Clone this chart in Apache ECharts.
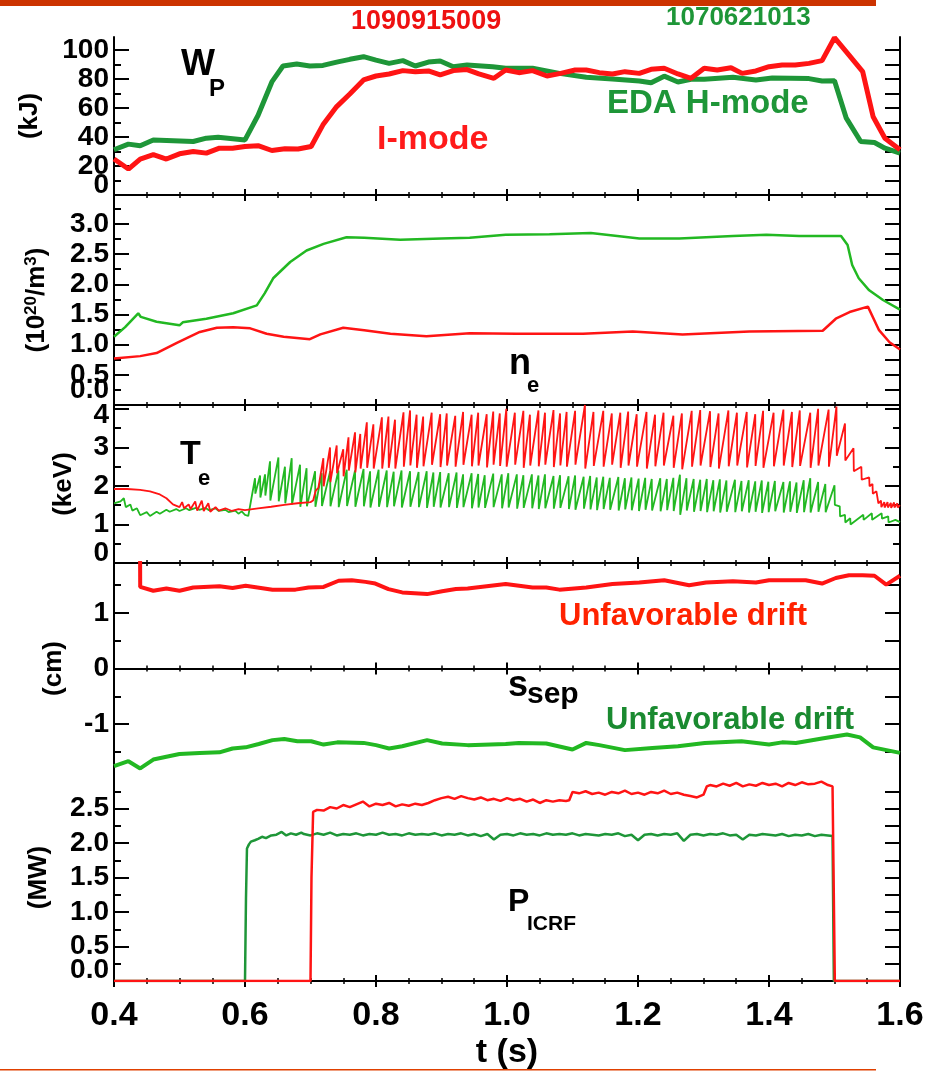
<!DOCTYPE html>
<html><head><meta charset="utf-8">
<script src="https://cdn.jsdelivr.net/npm/echarts@6/dist/echarts.min.js"></script>
<style>html,body{margin:0;padding:0;background:#fff}#c{width:936px;height:1071px}</style>
</head><body><div id="c"></div>
<script>
// ---------- DATA ----------
const wpGreen = [[0.400,31.2],[0.422,35.1],[0.440,34.0],[0.460,38.0],[0.521,36.9],[0.541,39.2],[0.559,39.9],[0.600,38.0],[0.620,55.0],[0.641,78.0],[0.658,89.0],[0.679,90.4],[0.699,89.0],[0.719,89.4],[0.740,91.7],[0.760,93.6],[0.781,95.4],[0.800,93.0],[0.820,90.8],[0.841,92.7],[0.860,89.0],[0.880,91.7],[0.898,92.4],[0.918,88.5],[0.939,89.7],[0.978,88.5],[0.998,87.4],[1.039,87.4],[1.080,83.9],[1.121,81.2],[1.161,80.0],[1.202,78.7],[1.220,77.5],[1.240,82.0],[1.261,78.0],[1.281,79.8],[1.301,79.8],[1.345,81.2],[1.380,79.4],[1.405,80.7],[1.461,80.3],[1.481,78.7],[1.500,78.9],[1.518,53.0],[1.540,36.9],[1.561,36.2],[1.577,32.3],[1.600,28.9]];
const wpRed = [[0.400,24.8],[0.422,17.9],[0.440,24.8],[0.460,27.8],[0.480,24.8],[0.500,28.4],[0.521,30.0],[0.541,28.9],[0.561,32.3],[0.581,32.3],[0.600,33.5],[0.620,34.0],[0.641,30.7],[0.661,31.9],[0.681,31.7],[0.701,33.5],[0.719,48.4],[0.740,61.0],[0.760,69.7],[0.781,79.4],[0.800,82.1],[0.820,83.5],[0.841,85.8],[0.860,85.1],[0.880,85.6],[0.898,82.8],[0.918,85.8],[0.939,86.5],[0.957,83.5],[0.980,80.5],[0.998,86.2],[1.018,84.4],[1.039,85.8],[1.061,82.1],[1.082,83.9],[1.104,86.2],[1.121,86.2],[1.141,84.4],[1.161,83.5],[1.180,85.1],[1.202,83.9],[1.220,86.7],[1.240,87.4],[1.261,83.5],[1.281,80.5],[1.301,87.4],[1.321,86.2],[1.342,87.8],[1.359,83.9],[1.380,85.6],[1.400,88.5],[1.420,89.7],[1.440,89.7],[1.461,90.8],[1.481,92.7],[1.500,108.5],[1.520,97.7],[1.543,85.1],[1.559,54.0],[1.577,39.2],[1.600,31.2]];

const neGreen = [[0.400,1.13],[0.417,1.29],[0.437,1.52],[0.441,1.46],[0.465,1.38],[0.500,1.32],[0.505,1.37],[0.541,1.43],[0.582,1.52],[0.618,1.65],[0.630,1.85],[0.643,2.10],[0.669,2.37],[0.694,2.56],[0.720,2.67],[0.755,2.78],[0.782,2.77],[0.837,2.74],[0.900,2.76],[0.943,2.77],[0.998,2.82],[1.065,2.83],[1.128,2.85],[1.202,2.76],[1.263,2.76],[1.345,2.80],[1.396,2.82],[1.446,2.80],[1.510,2.80],[1.520,2.65],[1.527,2.32],[1.537,2.10],[1.553,1.90],[1.574,1.74],[1.600,1.58]];
const neRed = [[0.400,0.77],[0.440,0.81],[0.465,0.86],[0.496,1.03],[0.531,1.21],[0.557,1.28],[0.582,1.29],[0.608,1.27],[0.633,1.18],[0.659,1.13],[0.699,1.09],[0.715,1.17],[0.750,1.28],[0.782,1.24],[0.822,1.18],[0.877,1.14],[0.943,1.19],[1.014,1.18],[1.116,1.18],[1.192,1.22],[1.268,1.17],[1.370,1.22],[1.482,1.23],[1.502,1.43],[1.523,1.54],[1.551,1.63],[1.568,1.24],[1.584,1.04],[1.600,0.92]];

// Te: sawtooth read as crash times, peak before crash, value after crash
const teGreenPre = [[0.400,1.55],[0.410,1.60],[0.415,1.68],[0.418,1.45],[0.425,1.52],[0.428,1.36],[0.435,1.42],[0.440,1.24],[0.450,1.32],[0.455,1.22],[0.465,1.33],[0.470,1.28],[0.480,1.38],[0.485,1.33],[0.495,1.40],[0.500,1.35],[0.510,1.42],[0.515,1.37],[0.525,1.43],[0.530,1.38],[0.540,1.43],[0.545,1.37],[0.555,1.42],[0.560,1.35],[0.570,1.38],[0.575,1.32],[0.585,1.36],[0.590,1.28],[0.595,1.34],[0.600,1.25],[0.605,1.22]];
const teGreenCrash = [0.6153,0.623,0.6306,0.6382,0.651,0.661,0.6713,0.684,0.694,0.707,0.717,0.730,0.7426,0.7553,0.768,0.781,0.791,0.804,0.8164,0.827,0.839,0.852,0.865,0.8774,0.8876,0.898,0.911,0.923,0.933,0.946,0.956,0.966,0.979,0.992,1.002,1.015,1.025,1.038,1.048,1.058,1.071,1.081,1.094,1.104,1.117,1.127,1.137,1.147,1.157,1.170,1.180,1.190,1.201,1.211,1.221,1.234,1.244,1.254,1.264,1.274,1.285,1.295,1.305,1.315,1.325,1.335,1.348,1.358,1.369,1.379,1.389,1.399,1.409,1.422,1.432,1.442,1.453,1.463,1.475,1.486,1.500];
const teGreenPeak = [2.20,2.27,2.30,2.64,2.74,2.50,2.72,2.55,2.46,2.38,2.33,2.38,2.40,2.42,2.40,2.44,2.38,2.42,2.40,2.37,2.40,2.38,2.36,2.38,2.35,2.36,2.33,2.35,2.30,2.33,2.31,2.28,2.32,2.30,2.33,2.30,2.28,2.30,2.27,2.30,2.26,2.28,2.25,2.27,2.24,2.26,2.22,2.24,2.21,2.23,2.20,2.22,2.19,2.21,2.18,2.20,2.18,2.21,2.29,2.20,2.18,2.16,2.18,2.15,2.17,2.14,2.16,2.13,2.15,2.12,2.14,2.11,2.13,2.10,2.12,2.09,2.15,2.20,2.10,2.05,2.02];
const teGreenLow = [1.80,1.70,1.75,1.62,1.60,1.55,1.52,1.46,1.47,1.46,1.48,1.47,1.45,1.48,1.46,1.47,1.44,1.46,1.45,1.47,1.44,1.46,1.45,1.43,1.46,1.44,1.45,1.43,1.45,1.42,1.44,1.43,1.45,1.42,1.44,1.41,1.43,1.42,1.40,1.42,1.41,1.43,1.40,1.38,1.41,1.39,1.37,1.40,1.38,1.36,1.39,1.37,1.35,1.38,1.36,1.34,1.37,1.35,1.25,1.36,1.33,1.35,1.32,1.34,1.31,1.33,1.32,1.34,1.31,1.33,1.30,1.32,1.34,1.31,1.33,1.30,1.32,1.31,1.33,1.32,1.51];
const teGreenPost = [[1.508,1.47],[1.5085,1.21],[1.516,1.25],[1.5165,1.05],[1.524,1.16],[1.5245,1.00],[1.544,1.25],[1.5445,1.12],[1.557,1.29],[1.5575,1.12],[1.572,1.29],[1.5725,1.15],[1.582,1.21],[1.5825,1.05],[1.593,1.12],[1.600,1.06]];

const teRedPre = [[0.400,1.92],[0.420,1.92],[0.440,1.90],[0.455,1.86],[0.470,1.78],[0.480,1.68],[0.490,1.52],[0.500,1.45],[0.504,1.58],[0.507,1.42],[0.514,1.52],[0.517,1.40],[0.524,1.60],[0.527,1.36],[0.534,1.62],[0.537,1.35],[0.544,1.55],[0.547,1.33],[0.555,1.45],[0.560,1.36],[0.570,1.42],[0.580,1.35],[0.590,1.40],[0.600,1.37],[0.620,1.42],[0.640,1.46],[0.660,1.51],[0.680,1.55],[0.700,1.58],[0.704,1.62],[0.708,1.88],[0.712,1.95]];
const teRedCrash = [0.7196,0.7298,0.740,0.750,0.758,0.768,0.776,0.786,0.796,0.809,0.819,0.829,0.842,0.852,0.862,0.872,0.885,0.898,0.908,0.921,0.933,0.946,0.956,0.969,0.979,0.989,0.999,1.012,1.025,1.035,1.048,1.058,1.071,1.081,1.091,1.104,1.119,1.132,1.147,1.160,1.173,1.185,1.198,1.213,1.226,1.239,1.254,1.267,1.282,1.295,1.310,1.323,1.338,1.351,1.366,1.379,1.391,1.407,1.422,1.435,1.447,1.463,1.475,1.491,1.503];
const teRedPeak = [2.72,3.00,3.05,2.95,3.26,3.39,3.35,3.65,3.60,3.78,3.80,3.72,3.91,3.96,3.85,3.80,3.90,3.86,3.88,3.82,3.92,3.85,3.90,3.86,3.93,3.88,4.00,3.90,3.95,3.85,3.96,3.90,3.97,3.88,3.92,3.95,4.10,3.92,3.95,3.88,3.90,3.93,3.86,3.92,3.85,3.90,3.82,3.88,3.95,3.97,3.94,3.88,3.96,3.90,3.92,3.86,3.95,3.90,3.98,3.92,3.96,3.90,4.00,3.98,4.06];
const teRedLow = [1.99,2.10,2.33,2.25,2.40,2.35,2.45,2.47,2.45,2.45,2.47,2.45,2.50,2.53,2.47,2.51,2.55,2.49,2.53,2.50,2.55,2.51,2.53,2.48,2.55,2.52,2.50,2.55,2.47,2.53,2.51,2.55,2.49,2.53,2.50,2.55,2.45,2.52,2.50,2.55,2.47,2.53,2.50,2.45,2.51,2.53,2.47,2.43,2.50,2.53,2.49,2.45,2.51,2.53,2.48,2.52,2.47,2.51,2.53,2.49,2.52,2.47,2.53,2.50,2.78];
const teRedPost = [[1.516,3.62],[1.5165,2.66],[1.529,2.98],[1.5295,2.38],[1.541,2.50],[1.5415,2.16],[1.553,2.22],[1.5535,1.99],[1.558,2.05],[1.5585,1.80],[1.564,1.86],[1.567,1.55],[1.571,1.62],[1.5715,1.45],[1.576,1.58],[1.5765,1.44],[1.581,1.58],[1.5815,1.44],[1.586,1.56],[1.5865,1.43],[1.591,1.57],[1.5915,1.44],[1.596,1.55],[1.5965,1.44],[1.600,1.50]];

const ssRed = [[0.4397,2.5],[0.4400,1.47],[0.460,1.40],[0.480,1.44],[0.500,1.40],[0.521,1.46],[0.561,1.48],[0.581,1.45],[0.601,1.49],[0.642,1.42],[0.677,1.42],[0.697,1.46],[0.720,1.47],[0.743,1.58],[0.763,1.59],[0.784,1.56],[0.799,1.53],[0.819,1.43],[0.840,1.37],[0.878,1.34],[0.901,1.39],[0.922,1.43],[0.940,1.44],[0.998,1.52],[1.039,1.46],[1.060,1.46],[1.080,1.42],[1.121,1.46],[1.161,1.52],[1.202,1.55],[1.240,1.59],[1.278,1.50],[1.304,1.55],[1.345,1.57],[1.380,1.55],[1.400,1.59],[1.456,1.59],[1.481,1.53],[1.502,1.63],[1.522,1.68],[1.543,1.68],[1.561,1.67],[1.579,1.51],[1.600,1.67]];
const ssGreen = [[0.400,-1.76],[0.422,-1.67],[0.440,-1.80],[0.460,-1.64],[0.480,-1.59],[0.500,-1.54],[0.531,-1.52],[0.561,-1.51],[0.581,-1.44],[0.601,-1.42],[0.621,-1.36],[0.642,-1.29],[0.660,-1.27],[0.680,-1.31],[0.701,-1.31],[0.720,-1.37],[0.741,-1.33],[0.781,-1.34],[0.800,-1.38],[0.820,-1.44],[0.840,-1.40],[0.878,-1.29],[0.901,-1.35],[0.940,-1.38],[0.998,-1.36],[1.018,-1.34],[1.060,-1.35],[1.100,-1.46],[1.121,-1.34],[1.141,-1.38],[1.180,-1.47],[1.222,-1.43],[1.261,-1.40],[1.302,-1.34],[1.358,-1.31],[1.400,-1.37],[1.420,-1.33],[1.441,-1.34],[1.481,-1.26],[1.519,-1.19],[1.539,-1.24],[1.559,-1.42],[1.600,-1.52]];

const picGreen = [[0.400,0],[0.600,0],[0.6015,1.20],[0.603,1.92],[0.606,1.98],[0.609,2.02],[0.615,2.04],[0.620,2.06],[0.626,2.09],[0.632,2.07],[0.640,2.11],[0.648,2.12],[0.656,2.16],[0.663,2.11],[0.670,2.14],[0.678,2.12],[0.686,2.15],[0.69,2.13],[0.70,2.11],[0.71,2.14],[0.72,2.12],[0.73,2.15],[0.74,2.11],[0.75,2.13],[0.76,2.12],[0.77,2.14],[0.78,2.11],[0.79,2.13],[0.80,2.12],[0.81,2.15],[0.82,2.12],[0.83,2.13],[0.84,2.11],[0.85,2.14],[0.86,2.12],[0.87,2.13],[0.88,2.12],[0.89,2.14],[0.90,2.11],[0.91,2.13],[0.92,2.12],[0.93,2.14],[0.94,2.11],[0.95,2.13],[0.96,2.10],[0.97,2.13],[0.98,2.05],[0.99,2.12],[1.00,2.13],[1.01,2.11],[1.02,2.14],[1.03,2.12],[1.04,2.13],[1.05,2.11],[1.06,2.14],[1.07,2.12],[1.08,2.13],[1.09,2.12],[1.10,2.14],[1.11,2.11],[1.12,2.13],[1.13,2.12],[1.14,2.11],[1.15,2.13],[1.16,2.12],[1.17,2.14],[1.18,2.10],[1.19,2.12],[1.20,2.04],[1.21,2.12],[1.22,2.13],[1.23,2.11],[1.24,2.13],[1.25,2.12],[1.26,2.14],[1.27,2.03],[1.28,2.12],[1.29,2.13],[1.30,2.11],[1.31,2.13],[1.32,2.12],[1.33,2.14],[1.34,2.11],[1.35,2.12],[1.36,2.05],[1.37,2.12],[1.38,2.11],[1.39,2.13],[1.40,2.12],[1.41,2.11],[1.42,2.13],[1.43,2.10],[1.44,2.12],[1.45,2.11],[1.46,2.13],[1.47,2.10],[1.48,2.12],[1.49,2.11],[1.497,2.10],[1.499,0],[1.600,0]];
const picRed = [[0.400,0],[0.700,0],[0.7015,1.50],[0.704,2.45],[0.71,2.48],[0.72,2.47],[0.73,2.52],[0.74,2.50],[0.75,2.55],[0.76,2.52],[0.77,2.56],[0.78,2.60],[0.79,2.53],[0.80,2.57],[0.81,2.55],[0.82,2.58],[0.83,2.53],[0.84,2.56],[0.85,2.54],[0.86,2.57],[0.87,2.55],[0.88,2.58],[0.89,2.62],[0.90,2.65],[0.91,2.67],[0.92,2.64],[0.93,2.68],[0.94,2.65],[0.95,2.63],[0.96,2.66],[0.97,2.62],[0.98,2.64],[0.99,2.61],[1.00,2.65],[1.01,2.62],[1.02,2.64],[1.03,2.60],[1.04,2.63],[1.05,2.58],[1.06,2.62],[1.07,2.60],[1.08,2.62],[1.09,2.61],[1.095,2.62],[1.10,2.74],[1.11,2.72],[1.12,2.75],[1.13,2.71],[1.14,2.73],[1.15,2.70],[1.16,2.74],[1.17,2.72],[1.18,2.76],[1.19,2.71],[1.20,2.73],[1.21,2.70],[1.22,2.74],[1.23,2.72],[1.24,2.76],[1.25,2.71],[1.26,2.73],[1.27,2.70],[1.28,2.68],[1.29,2.66],[1.30,2.70],[1.305,2.82],[1.31,2.84],[1.32,2.82],[1.33,2.86],[1.34,2.83],[1.35,2.87],[1.36,2.82],[1.37,2.85],[1.38,2.83],[1.39,2.87],[1.40,2.84],[1.41,2.86],[1.42,2.82],[1.43,2.87],[1.44,2.84],[1.45,2.88],[1.46,2.85],[1.47,2.86],[1.48,2.89],[1.49,2.84],[1.497,2.82],[1.500,2.80],[1.5005,0],[1.600,0]];

const y1Labels = [0,20,40,60,80,100], y1Minor = [10,30,50,70,90];
const y2Labels = [0,0.5,1.0,1.5,2.0,2.5,3.0], y2Minor = [0.25,0.75,1.25,1.75,2.25,2.75,3.25];
const y3Labels = [0,1,2,3,4], y3Minor = [0.5,1.5,2.5,3.5];
const y4Labels = [-1,0,1], y4Minor = [-1.5,-0.5,0.5,1.5];
const y5Labels = [0,0.5,1.0,1.5,2.0,2.5], y5Minor = [0.25,0.75,1.25,1.75,2.25,2.75];

// ---------- BUILD ----------
function saw(pre, t, hi, lo, post) {
  const out = pre.map(p => p.slice());
  const n = Math.min(t.length, hi.length, lo.length);
  for (let i = 0; i < n; i++) { out.push([t[i], hi[i]]); out.push([t[i] + 0.0005, lo[i]]); }
  return out.concat(post);
}
const teGreen = saw(teGreenPre, teGreenCrash, teGreenPeak, teGreenLow, teGreenPost);
const teRed = saw(teRedPre, teRedCrash, teRedPeak, teRedLow, teRedPost);

const FONT = 'Liberation Sans, Arial, Helvetica, sans-serif';
const RED = '#ff1414', GD = '#1e9638', GB = '#22b822';
const panels = [
  {top:37, h:158, min:0, max:109, labels:y1Labels, minor:y1Minor, fmt:v=>String(v), shift:{0:'u20'}, rightMinorLen:15, name:'(kJ)', gap:71},
  {top:195, h:210, min:0, max:3.48, labels:y2Labels, minor:y2Minor, fmt:v=>v.toFixed(1), shift:{0:'u30'}, rightMinorLen:15, name:'(10{s|20}/m{s|3})', gap:64},
  {top:405, h:158, min:0, max:4.1, labels:y3Labels, minor:y3Minor, fmt:v=>String(v), shift:{0:'u20',4:'d12'}, rightMinorLen:7, name:'(keV)', gap:37},
  {top:563, h:211, min:-1.9, max:1.9, labels:y4Labels, minor:y4Minor, fmt:v=>String(v), shift:{}, rightMinorLen:15, name:'(cm)', gap:47},
  {top:774, h:210, min:0, max:3.0, labels:y5Labels, minor:y5Minor, fmt:v=>v.toFixed(1), shift:{0:'u22'}, rightMinorLen:15, name:'(MW)', gap:62}
];
const lab = {fontSize:28, fontWeight:'bold', fontFamily:FONT, color:'#000'};
const rich = {
  u20:Object.assign({padding:[0,0,20,0]}, lab), u22:Object.assign({padding:[0,0,22,0]}, lab),
  u30:Object.assign({padding:[0,0,30,0]}, lab), d12:Object.assign({padding:[12,0,0,0]}, lab)
};
const grids = [], xAxes = [], yAxes = [];
const axLine = {show:true, lineStyle:{color:'#000', width:2}};
const NY = 5;
panels.forEach((p, i) => {
  grids.push({left:114, right:36, top:p.top, height:p.h});
  ['bottom','top'].forEach(pos => {
    xAxes.push({type:'value', gridIndex:i, position:pos, min:0.4, max:1.6, interval:0.2,
      axisLine:axLine, splitLine:{show:false},
      axisTick:{show:true, inside:true, length:6, lineStyle:{color:'#000', width:2}},
      minorTick:{show:true, splitNumber:4, length:3, lineStyle:{color:'#000', width:1.5}},
      axisLabel:{show: (i === 4 && pos === 'bottom'), margin:18, fontSize:34, fontWeight:'bold', fontFamily:FONT, color:'#000',
        showMinLabel:true, showMaxLabel:true, formatter: v => v.toFixed(1)},
      name: (i === 4 && pos === 'bottom') ? 't (s)' : '', nameLocation:'middle', nameGap:55,
      nameTextStyle:{fontSize:34, fontWeight:'bold', fontFamily:FONT, color:'#000'}
    });
  });
  const shiftedVals = Object.keys(p.shift).map(Number);
  const plainVals = p.labels.filter(v => !(v in p.shift));
  const base = {type:'value', gridIndex:i, min:p.min, max:p.max, splitLine:{show:false}};
  // main left axis: line, major ticks, normal labels, name
  yAxes.push(Object.assign({}, base, {position:'left', axisLine:axLine,
    axisTick:{show:true, inside:true, length:15, customValues:p.labels, lineStyle:{color:'#000', width:2}},
    axisLabel:Object.assign({show:true, margin:5, customValues:plainVals, formatter: v => p.fmt(v)}, lab),
    name:p.name, nameLocation:'middle', nameRotate:90, nameGap:p.gap,
    nameTextStyle:{fontSize:26, fontWeight:'bold', fontFamily:FONT, color:'#000',
      rich:{s:{fontSize:17, fontWeight:'bold', fontFamily:FONT, color:'#000', verticalAlign:'top', padding:[0,0,10,0]}}}
  }));
  // left minor ticks
  yAxes.push(Object.assign({}, base, {position:'left', axisLine:{show:false}, axisLabel:{show:false},
    axisTick:{show:true, inside:true, length:7, customValues:p.minor, lineStyle:{color:'#000', width:2}}}));
  // right axis ticks
  yAxes.push(Object.assign({}, base, {position:'right', axisLine:axLine, axisLabel:{show:false},
    axisTick:{show:true, inside:true, length:15, customValues:p.labels, lineStyle:{color:'#000', width:2}}}));
  yAxes.push(Object.assign({}, base, {position:'right', axisLine:{show:false}, axisLabel:{show:false},
    axisTick:{show:true, inside:true, length:p.rightMinorLen, customValues:p.minor, lineStyle:{color:'#000', width:2}}}));
  // edge labels nudged away from the panel border (as in the original figure)
  yAxes.push(Object.assign({}, base, {position:'left', axisLine:{show:false}, axisTick:{show:false},
    axisLabel:Object.assign({show:shiftedVals.length > 0, margin:5, customValues:shiftedVals.length ? shiftedVals : [p.min], rich:rich,
      formatter: v => { const k = p.shift[v]; const s = p.fmt(v); return k ? '{' + k + '|' + s + '}' : ''; }}, lab)}));
});

function line(i, data, color, width) {
  return {type:'line', xAxisIndex:2*i, yAxisIndex:NY*i, data:data, showSymbol:false, symbol:'none',
    lineStyle:{color:color, width:width}, animation:false, clip:true, z:3};
}
const series = [
  line(0, wpGreen, GD, 5), line(0, wpRed, RED, 5),
  line(1, neGreen, GB, 2.5), line(1, neRed, RED, 2.5),
  line(2, teGreen, GB, 1.8), line(2, teRed, RED, 1.8),
  line(3, ssGreen, GB, 4), line(3, ssRed, RED, 4),
  line(4, picGreen, GD, 2.5), line(4, picRed, RED, 2.5)
];

function txt(x, y, s, size, color) {
  return {type:'text', x:x, y:y, z:10, style:{text:s, fontSize:size, fontWeight:'bold', fontFamily:FONT, fill:color, align:'left', verticalAlign:'middle'}};
}
const graphic = [
  {type:'rect', shape:{x:0, y:0, width:876, height:6}, style:{fill:'#cc3300'}},
  {type:'rect', shape:{x:0, y:1069, width:876, height:1.5}, style:{fill:'#e04000'}},
  txt(181, 65, 'W', 36, '#000'), txt(209, 89, 'P', 24, '#000'),
  txt(377, 140, 'I-mode', 34, '#ff1a1a'),
  txt(607, 104, 'EDA H-mode', 33, GD),
  txt(351, 22, '1090915009', 27, '#ee1111'),
  txt(666, 18, '1070621013', 26, GD),
  txt(509, 364, 'n', 36, '#000'), txt(527, 386, 'e', 22, '#000'),
  txt(180, 455, 'T', 34, '#000'), txt(198, 479, 'e', 22, '#000'),
  txt(508, 686, 's', 36, '#000'), txt(527, 695, 'sep', 30, '#000'),
  txt(559, 616, 'Unfavorable drift', 31, '#ff2200'),
  txt(606, 720, 'Unfavorable drift', 31, '#1a8a30'),
  txt(508, 902, 'P', 32, '#000'), txt(527, 924, 'ICRF', 21, '#000')
];

const chart = echarts.init(document.getElementById('c'), null, {renderer:'canvas'});
chart.setOption({animation:false, backgroundColor:'#fff', grid:grids, xAxis:xAxes, yAxis:yAxes, series:series, graphic:graphic});
</script></body></html>
